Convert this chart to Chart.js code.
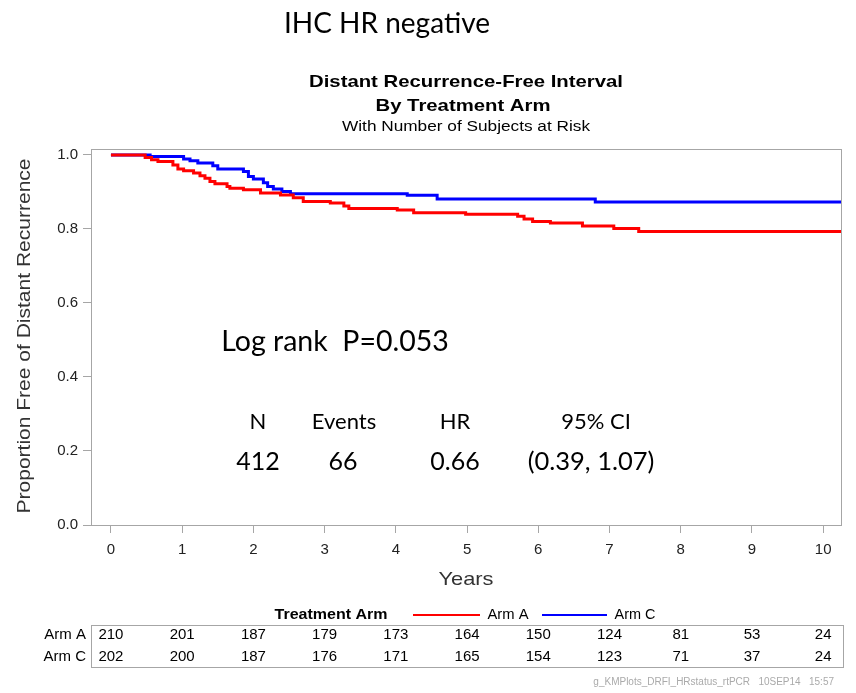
<!DOCTYPE html>
<html>
<head>
<meta charset="utf-8">
<script src="https://cdn.jsdelivr.net/npm/chart.js@4"></script>
<style>
  body { margin: 0; background: #fff; }
  #wrap { position: relative; width: 856px; height: 693px; }
  .note { position: absolute; font-family: Lato, "Open Sans", sans-serif; color: #000; white-space: nowrap; transform: translate(-50%, -50%); }
</style>
</head>
<body>
<div id="wrap">
  <canvas id="kmChart" width="856" height="693"></canvas>
  <div class="note" style="left:387px;top:22px;font-size:28px">IHC HR negative</div>
  <div class="note" style="left:335px;top:340px;font-size:28.5px">Log rank&nbsp; P=0.053</div>
  <div class="note" style="left:258px;top:420px;font-size:22px">N</div>
  <div class="note" style="left:344px;top:420px;font-size:22px">Events</div>
  <div class="note" style="left:455px;top:420px;font-size:22px">HR</div>
  <div class="note" style="left:596px;top:420px;font-size:22px">95% CI</div>
  <div class="note" style="left:258px;top:460px;font-size:25px">412</div>
  <div class="note" style="left:343px;top:460px;font-size:25px">66</div>
  <div class="note" style="left:455px;top:460px;font-size:25px">0.66</div>
  <div class="note" style="left:591px;top:460px;font-size:25.5px">(0.39, 1.07)</div>
</div>
<script>
// Kaplan-Meier steps: time of each drop and survival after it
const armATime = [0, 0.48, 0.57, 0.66, 0.87, 0.94, 1.02, 1.16, 1.25, 1.32, 1.39, 1.46, 1.63, 1.67, 1.86, 2.10, 2.38, 2.56, 2.70, 3.08, 3.27, 3.34, 4.02, 4.25, 4.98, 5.71, 5.80, 5.92, 6.17, 6.62, 7.06, 7.41, 10.25];
const armASurv = [1.0, 0.993, 0.987, 0.982, 0.973, 0.962, 0.957, 0.951, 0.944, 0.937, 0.928, 0.922, 0.915, 0.910, 0.906, 0.897, 0.892, 0.884, 0.874, 0.870, 0.862, 0.855, 0.851, 0.844, 0.840, 0.834, 0.827, 0.820, 0.816, 0.808, 0.801, 0.793, 0.793];

const armCTime = [0, 0.55, 1.02, 1.11, 1.22, 1.43, 1.50, 1.86, 1.93, 2.00, 2.14, 2.20, 2.28, 2.40, 2.52, 4.16, 4.58, 6.80, 10.25];
const armCSurv = [1.0, 0.996, 0.989, 0.984, 0.978, 0.971, 0.962, 0.955, 0.942, 0.935, 0.925, 0.915, 0.908, 0.901, 0.895, 0.891, 0.881, 0.873, 0.873];

const xTicks = [0, 1, 2, 3, 4, 5, 6, 7, 8, 9, 10];
const yTicks = [0, 0.2, 0.4, 0.6, 0.8, 1.0];

// numbers at risk, one per x tick
const armARisk = [210, 201, 187, 179, 173, 164, 150, 124, 81, 53, 24];
const armCRisk = [202, 200, 187, 176, 171, 165, 154, 123, 71, 37, 24];

const gray = '#a6a6a6';
const sas = '"Liberation Sans", Arial, sans-serif';

const toPoints = (t, s) => t.map((v, i) => ({ x: v, y: s[i] }));

// SAS renders its fonts a bit wider than Arial, so stretch the text to the width it has there
function wideText(ctx, text, cx, cy, font, width, angle) {
  ctx.save();
  ctx.font = font;
  const sx = width / ctx.measureText(text).width;
  ctx.translate(cx, cy);
  if (angle) ctx.rotate(angle);
  ctx.scale(sx, 1);
  ctx.textAlign = 'center';
  ctx.textBaseline = 'middle';
  ctx.fillText(text, 0, 0);
  ctx.restore();
}

const extras = {
  id: 'extras',
  afterDraw(chart) {
    const { ctx, chartArea: a } = chart;
    const x = chart.scales.x;
    const mid = (a.left + a.right) / 2;
    ctx.save();

    // frame round the plot
    ctx.strokeStyle = gray;
    ctx.lineWidth = 1;
    ctx.strokeRect(a.left + 0.5, a.top + 0.5, a.right - a.left, a.bottom - a.top);

    // titles
    ctx.fillStyle = '#000';
    wideText(ctx, 'Distant Recurrence-Free Interval', mid, 82, 'bold 17px ' + sas, 314);
    wideText(ctx, 'By Treatment Arm', 463, 106, 'bold 17px ' + sas, 175);
    wideText(ctx, 'With Number of Subjects at Risk', 466, 127, '14px ' + sas, 248);

    // axis titles
    ctx.fillStyle = '#333';
    wideText(ctx, 'Years', 466, 580, '19px ' + sas, 55);
    wideText(ctx, 'Proportion Free of Distant Recurrence', 25, 336, '18px ' + sas, 355, -Math.PI / 2);

    // legend
    ctx.fillStyle = '#000';
    wideText(ctx, 'Treatment Arm', 331, 615, 'bold 14px ' + sas, 113);
    ctx.lineWidth = 2;
    ctx.strokeStyle = '#ff0000';
    ctx.beginPath(); ctx.moveTo(413, 615); ctx.lineTo(480, 615); ctx.stroke();
    ctx.strokeStyle = '#0000ff';
    ctx.beginPath(); ctx.moveTo(542, 615); ctx.lineTo(607, 615); ctx.stroke();
    wideText(ctx, 'Arm A', 508, 615, '15px ' + sas, 41);
    wideText(ctx, 'Arm C', 635, 615, '15px ' + sas, 41);

    // risk table
    ctx.strokeStyle = gray;
    ctx.lineWidth = 1;
    ctx.strokeRect(a.left + 0.5, 625.5, 752, 42);
    ctx.font = '15px ' + sas;
    ctx.textBaseline = 'middle';
    ctx.textAlign = 'right';
    ctx.fillText('Arm A', 86, 635);
    ctx.fillText('Arm C', 86, 657);
    ctx.textAlign = 'center';
    xTicks.forEach((t, i) => {
      const px = x.getPixelForValue(t);
      ctx.fillText(String(armARisk[i]), px, 635);
      ctx.fillText(String(armCRisk[i]), px, 657);
    });

    // footnote
    ctx.font = '10px ' + sas;
    ctx.fillStyle = '#aaaaaa';
    ctx.textAlign = 'right';
    ctx.fillText('g_KMPlots_DRFI_HRstatus_rtPCR   10SEP14   15:57', 834, 682);
    ctx.restore();
  }
};

const ctx = document.getElementById('kmChart').getContext('2d');

const kmChart = new Chart(ctx, {
  type: 'line',
  data: {
    datasets: [{
      label: 'Arm A',
      data: toPoints(armATime, armASurv),
      borderColor: '#ff0000',
      borderWidth: 3,
      stepped: 'before',
      pointRadius: 0,
      fill: false
    }, {
      label: 'Arm C',
      data: toPoints(armCTime, armCSurv),
      borderColor: '#0000ff',
      borderWidth: 3,
      stepped: 'before',
      pointRadius: 0,
      fill: false
    }]
  },
  options: {
    responsive: false,
    animation: false,
    layout: { padding: { top: 149, right: 15, bottom: 98, left: 0 } },
    plugins: {
      legend: { display: false },
      tooltip: { enabled: false }
    },
    scales: {
      x: {
        type: 'linear',
        min: -0.28,
        max: 10.25,
        afterFit: (scale) => { scale.height = 70; },
        afterBuildTicks: (scale) => { scale.ticks = xTicks.map(v => ({ value: v })); },
        grid: { drawOnChartArea: false, tickLength: 8, color: gray },
        border: { color: gray },
        ticks: { padding: 8, color: '#222', font: { family: sas, size: 15 }, maxRotation: 0 }
      },
      y: {
        min: 0,
        max: 1.016,
        afterFit: (scale) => { scale.width = 91; },
        afterBuildTicks: (scale) => { scale.ticks = yTicks.map(v => ({ value: v })); },
        grid: { drawOnChartArea: false, tickLength: 8, color: gray },
        border: { color: gray },
        ticks: { padding: 5, color: '#222', font: { family: sas, size: 15 }, callback: v => v.toFixed(1) }
      }
    }
  },
  plugins: [extras]
});
</script>
</body>
</html>
